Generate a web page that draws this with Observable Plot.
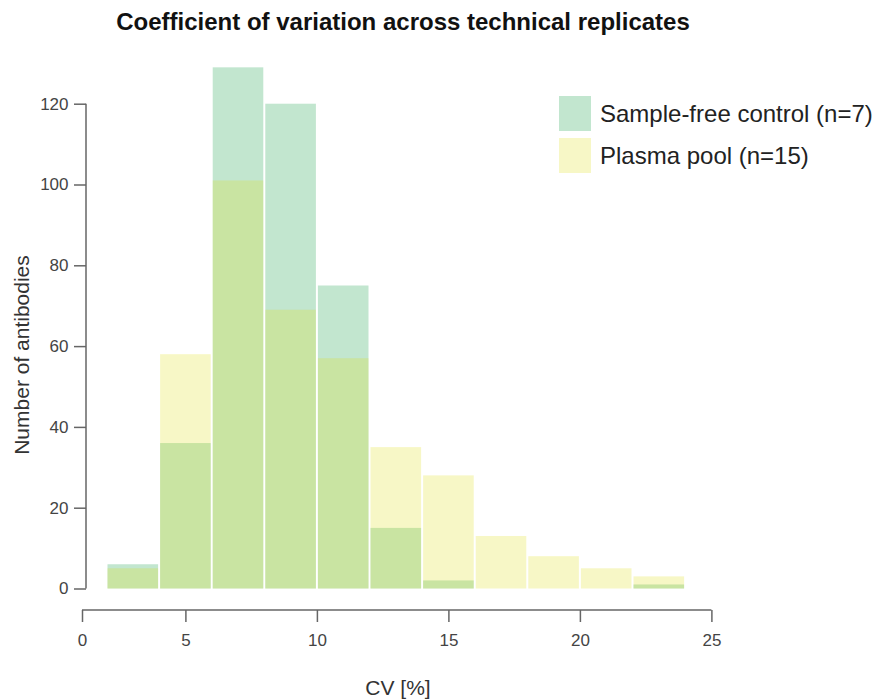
<!DOCTYPE html>
<html>
<head>
<meta charset="utf-8">
<script src="https://cdn.jsdelivr.net/npm/d3@7"></script>
<script src="https://cdn.jsdelivr.net/npm/@observablehq/plot@0.6"></script>
<style>
  html, body { margin: 0; padding: 0; background: #fff; }
  #wrap { position: relative; width: 876px; height: 699px; font-family: "Liberation Sans", Arial, sans-serif; overflow: hidden; }
  #title { position: absolute; left: 403px; top: 22px; transform: translate(-50%, -50%); font-weight: bold; font-size: 24px; color: #111; white-space: nowrap; }
  .ylab { position: absolute; left: 22px; top: 355px; transform: translate(-50%, -50%) rotate(-90deg); font-size: 21px; color: #333; white-space: nowrap; }
  .xlab { position: absolute; left: 398px; top: 688px; transform: translate(-50%, -50%); font-size: 21px; color: #333; white-space: nowrap; }
  .leg { position: absolute; left: 559px; display: flex; align-items: center; font-size: 24px; color: #222; white-space: nowrap; }
  .leg .sw { width: 32px; height: 35px; margin-right: 9px; }
  svg { position: absolute; left: 0; top: 0; }
</style>
</head>
<body>
<div id="wrap">
  <div id="chart"></div>
  <div id="title">Coefficient of variation across technical replicates</div>
  <div class="ylab">Number of antibodies</div>
  <div class="xlab">CV [%]</div>
  <div id="legend"></div>
</div>
<script>
// Histogram bins (CV %)
const binStarts = [2, 4, 6, 8, 10, 12, 14, 16, 18, 20, 22];
const binEnds   = [4, 6, 8, 10, 12, 14, 16, 18, 20, 22, 24];
// Counts per bin
const controlCounts = [6, 36, 129, 120, 75, 15, 2, 0, 0, 0, 1];
const plasmaCounts  = [5, 58, 101, 69, 57, 35, 28, 13, 8, 5, 3];
// Series labels
const seriesLabels = ["Sample-free control (n=7)", "Plasma pool (n=15)"];
// Tick values
const xTicks = [0, 5, 10, 15, 20, 25];
const yTicks = [0, 20, 40, 60, 80, 100, 120];

const control = binStarts.map((s, i) => ({x1: s, x2: binEnds[i], count: controlCounts[i]}));
const plasma = binStarts.map((s, i) => ({x1: s, x2: binEnds[i], count: plasmaCounts[i]}));

const axisColor = "#666";

function axisLines(index, {x, y}, values, dims) {
  const g = d3.create("svg:g").attr("stroke", axisColor).attr("stroke-width", 1.5).attr("fill", "none");
  const xl = dims.marginLeft;
  g.append("line").attr("x1", xl).attr("x2", xl).attr("y1", y(yTicks[0])).attr("y2", y(yTicks[yTicks.length - 1]));
  const yb = dims.height - dims.marginBottom;
  g.append("line").attr("y1", yb).attr("y2", yb).attr("x1", x(xTicks[0])).attr("x2", x(xTicks[xTicks.length - 1]));
  return g.node();
}

const chart = Plot.plot({
  width: 876,
  height: 699,
  marginLeft: 86,
  marginBottom: 89,
  marginTop: 60,
  marginRight: 100,
  style: {fontFamily: "'Liberation Sans', Arial, sans-serif", background: "transparent"},
  x: {type: "linear", domain: [0, 2, 25], range: [82, 106.5, 711.4]},
  y: {type: "linear", domain: [0, 120], range: [588.5, 103.7]},
  marks: [
    Plot.rectY(control, {x1: "x1", x2: "x2", y: "count", fill: "#c2e6cf", insetLeft: 1, insetRight: 1}),
    Plot.rectY(plasma, {x1: "x1", x2: "x2", y: "count", fill: "#dfdf1b", fillOpacity: 0.25, insetLeft: 1, insetRight: 1}),
    Plot.axisY({ticks: yTicks, tickSize: 12, tickPadding: 6, fontSize: 17, label: null, stroke: axisColor, color: "#444", strokeWidth: 1.5}),
    Plot.axisX({ticks: xTicks, tickSize: 12, tickPadding: 11, fontSize: 17, label: null, stroke: axisColor, color: "#444", strokeWidth: 1.5}),
    axisLines
  ]
});
document.getElementById("chart").appendChild(chart);

const legendColors = ["#c2e6cf", "#f7f7c6"];
const legendTops = [96, 138];
const legend = document.getElementById("legend");
seriesLabels.forEach((lab, i) => {
  const row = document.createElement("div");
  row.className = "leg";
  row.style.top = legendTops[i] + "px";
  const sw = document.createElement("div");
  sw.className = "sw";
  sw.style.background = legendColors[i];
  const t = document.createElement("span");
  t.textContent = lab;
  row.appendChild(sw);
  row.appendChild(t);
  legend.appendChild(row);
});
</script>
</body>
</html>
